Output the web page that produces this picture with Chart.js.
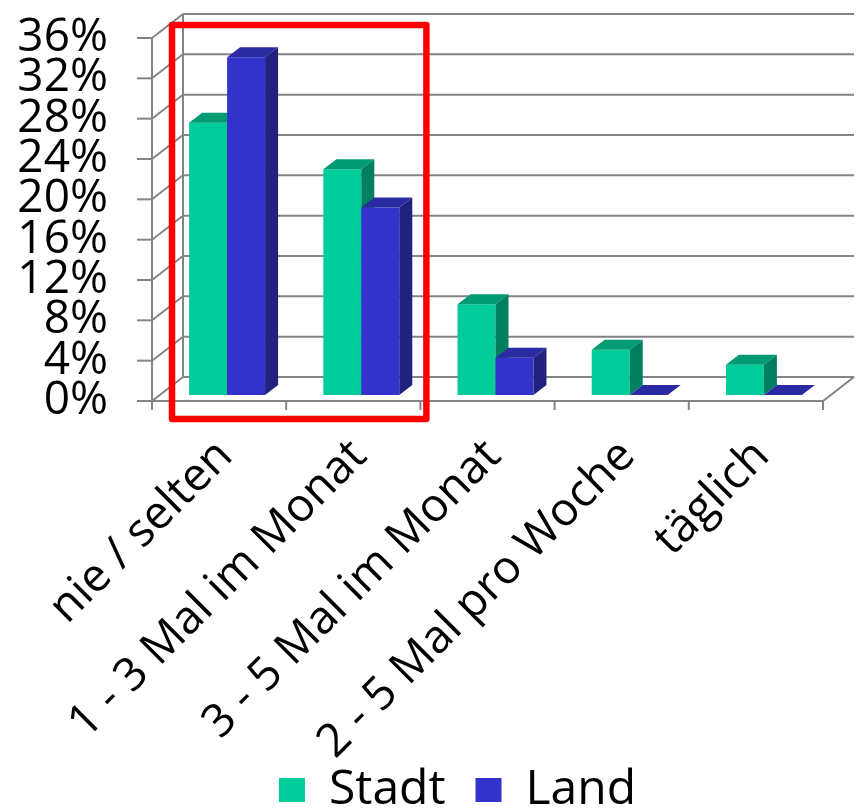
<!DOCTYPE html>
<html>
<head>
<meta charset="utf-8">
<script src="https://cdn.jsdelivr.net/npm/chart.js@4"></script>
<style>
  html, body { margin: 0; padding: 0; background: #fff; }
</style>
</head>
<body>
<canvas id="chart" width="857" height="812"></canvas>
<script>
const categories = ["nie / selten", "1 - 3 Mal im Monat", "3 - 5 Mal im Monat", "2 - 5 Mal pro Woche", "täglich"];
const stadtValues = [27.0, 22.4, 9.0, 4.5, 3.0];
const landValues = [33.5, 18.6, 3.7, 0, 0];
const yTicks = [0, 4, 8, 12, 16, 20, 24, 28, 32, 36];

const FONT = "'Open Sans', 'DejaVu Sans', sans-serif";
const gridColor = "#848484";

// front / top / side colours for each series
const faceColors = [
  { front: "#00cc99", top: "#009a73", side: "#008060" },
  { front: "#3333cc", top: "#2a2aa3", side: "#212180" },
];

// oblique projection offsets
const floorDepth = { dx: 31, dy: -24 };
const barShift = { dx: 8, dy: -6 };
const barDepth = { dx: 13, dy: -10 };

function line(ctx, x1, y1, x2, y2) {
  ctx.beginPath();
  ctx.moveTo(x1, y1);
  ctx.lineTo(x2, y2);
  ctx.stroke();
}

function poly(ctx, pts, color) {
  ctx.beginPath();
  ctx.moveTo(pts[0][0], pts[0][1]);
  for (let i = 1; i < pts.length; i++) ctx.lineTo(pts[i][0], pts[i][1]);
  ctx.closePath();
  ctx.fillStyle = color;
  ctx.fill();
}

const bar3d = {
  id: "bar3d",
  afterLayout(chart) {
    // legend sits a bit lower and right of centre in the original
    chart.legend.left += 46;
    chart.legend.right += 46;
    chart.legend.top += 12;
    chart.legend.bottom += 12;
    // let the long rotated labels run past the axis box
    chart.scales.x.bottom = chart.height;
  },
  beforeDatasetsDraw(chart) {
    const { ctx, chartArea: a, scales: { x, y } } = chart;
    const dx = floorDepth.dx, dy = floorDepth.dy;
    const yTop = y.getPixelForValue(yTicks[yTicks.length - 1]);
    const yBot = y.getPixelForValue(0);

    ctx.save();
    ctx.strokeStyle = gridColor;
    ctx.lineWidth = 2;

    // side wall + back wall grid
    yTicks.forEach(v => {
      const py = y.getPixelForValue(v);
      line(ctx, a.left - 15, py, a.left, py);
      line(ctx, a.left, py, a.left + dx, py + dy);
      line(ctx, a.left + dx, py + dy, a.right + dx, py + dy);
    });
    line(ctx, a.left, yTop, a.left, yBot);
    line(ctx, a.left + dx, yTop + dy, a.left + dx, yBot + dy);

    // floor
    line(ctx, a.left, yBot, a.right, yBot);
    line(ctx, a.right, yBot, a.right + dx, yBot + dy);
    const catW = (a.right - a.left) / categories.length;
    for (let i = 0; i <= categories.length; i++) {
      const px = a.left + i * catW;
      line(ctx, px, yBot, px, yBot + 9);
    }

    // bars, category by category so that faces overlap correctly
    const metas = chart.data.datasets.map((d, i) => chart.getDatasetMeta(i));
    categories.forEach((c, j) => {
      metas.forEach((meta, i) => {
        const bar = meta.data[j];
        const p = bar.getProps(["x", "y", "base", "width"], true);
        const col = faceColors[i];
        const x1 = p.x - p.width / 2 + barShift.dx;
        const x2 = p.x + p.width / 2 + barShift.dx;
        const top = p.y + barShift.dy;
        const bot = p.base + barShift.dy;
        const bx = barDepth.dx, by = barDepth.dy;
        poly(ctx, [[x1, top], [x2, top], [x2, bot], [x1, bot]], col.front);
        poly(ctx, [[x1, top], [x2, top], [x2 + bx, top + by], [x1 + bx, top + by]], col.top);
        poly(ctx, [[x2, top], [x2, bot], [x2 + bx, bot + by], [x2 + bx, top + by]], col.side);
      });
    });
    ctx.restore();
    return false;
  },
  afterDraw(chart) {
    // red highlight around the first two categories
    const { ctx, chartArea: a, scales: { x, y } } = chart;
    const catW = (a.right - a.left) / categories.length;
    const left = x.getPixelForValue(0) - catW / 2 + 20;
    const right = x.getPixelForValue(1) + catW / 2 + 6;
    const top = y.getPixelForValue(yTicks[yTicks.length - 1]) - 13;
    const bottom = y.getPixelForValue(0) + 18;
    ctx.save();
    ctx.strokeStyle = "#ff0000";
    ctx.lineWidth = 6.5;
    ctx.lineJoin = "round";
    ctx.strokeRect(left, top, right - left, bottom - top);
    ctx.restore();
  },
};

const ctx = document.getElementById("chart").getContext("2d");
const chart = new Chart(ctx, {
  type: "bar",
  data: {
    labels: categories,
    datasets: [
      {
        label: "Stadt",
        data: stadtValues,
        backgroundColor: faceColors[0].front,
        barPercentage: 1,
        categoryPercentage: 0.566,
      },
      {
        label: "Land",
        data: landValues,
        backgroundColor: faceColors[1].front,
        barPercentage: 1,
        categoryPercentage: 0.566,
      },
    ],
  },
  options: {
    responsive: false,
    animation: false,
    devicePixelRatio: 1,
    layout: { padding: { top: 38, right: 34, left: 0, bottom: 0 } },
    scales: {
      x: {
        grid: { display: false, drawTicks: false },
        border: { display: false },
        ticks: {
          autoSkip: false,
          minRotation: 45,
          maxRotation: 45,
          padding: 28,
          labelOffset: 6,
          color: "#000",
          font: { family: FONT, size: 46 },
        },
        afterFit(scale) {
          scale.height = 323;
          scale.paddingLeft = 0;
          scale.paddingRight = 0;
        },
      },
      y: {
        min: yTicks[0],
        max: yTicks[yTicks.length - 1],
        grid: { display: false, drawTicks: false },
        border: { display: false },
        ticks: {
          stepSize: 4,
          autoSkip: false,
          padding: 44,
          color: "#000",
          font: { family: FONT, size: 46 },
          callback: v => v + "%",
        },
        afterFit(scale) {
          scale.width = 152;
          scale.paddingTop = 0;
          scale.paddingBottom = 0;
        },
      },
    },
    plugins: {
      legend: {
        position: "bottom",
        labels: {
          boxWidth: 26,
          boxHeight: 24,
          padding: 30,
          color: "#000",
          font: { family: FONT, size: 48 },
        },
      },
      tooltip: { enabled: false },
    },
  },
  plugins: [bar3d],
});
</script>
</body>
</html>
